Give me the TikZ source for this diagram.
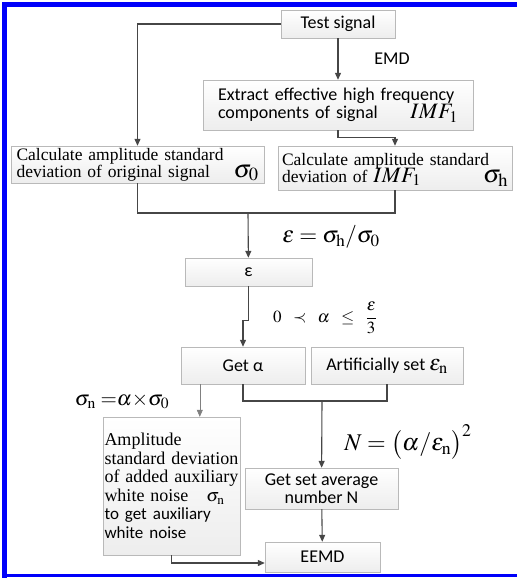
\documentclass[tikz,border=0pt]{standalone}
\usepackage{mathptmx}
\usepackage[no-math]{fontspec}
\setmainfont{Liberation Serif}
\newfontfamily\calibri{Carlito}
\usetikzlibrary{arrows.meta, shadows}

\definecolor{frameblue}{RGB}{0,0,250}
\definecolor{linegray}{RGB}{70,70,70}
\newcommand\bigsym[2]{\smash{\fontsize{#1}{#1}\selectfont #2}}

\begin{document}
\begin{tikzpicture}[x=1pt, y=-1pt,
    block/.style={rectangle, draw=gray!55, top color=white, bottom color=gray!14, inner sep=0pt,
        drop shadow={shadow xshift=1.2pt, shadow yshift=-1.2pt, opacity=0.25, fill=gray}},
    sans/.style={font=\calibri\fontsize{18}{18}\selectfont},
    serif/.style={font=\fontsize{17.5}{17}\selectfont},
    formula/.style={inner sep=0pt, font=\fontsize{#1}{#1}\selectfont},
    arrow/.style={-{Triangle[length=7pt, width=6pt]}, linegray, line width=1.1pt},
    link/.style={linegray, line width=1.1pt}]

\useasboundingbox (0,0) rectangle (517,578);

% Frame
\fill[frameblue] (2,2) rectangle (7,578);
\fill[frameblue] (2,2) rectangle (517,7);
\fill[frameblue] (2,574) rectangle (517,577);

% Nodes
\node [block, sans, minimum width=114, minimum height=28] (test) at (338,24) {Test signal};
\node [block, sans, minimum width=270, minimum height=50, text width=240pt, align=left] (extract) at (338,105)
    {Extract effective high frequency\\components of signal\hfill\bigsym{22}{$IMF_1$}};
\node [block, serif, minimum width=253, minimum height=37, text width=242pt, align=left] (calc0) at (137.5,164.5)
    {Calculate amplitude standard\\deviation of original signal\hfill\bigsym{25}{$\sigma_0$}};
\node [block, serif, minimum width=234, minimum height=44, text width=226pt, align=left] (calch) at (395,168)
    {Calculate amplitude standard\\deviation of \bigsym{22}{$IMF_1$}\hfill\bigsym{25}{$\sigma_{\mathrm{h}}$}};
\node [block, sans, minimum width=127, minimum height=28] (eps) at (248.5,272) {ε};
\node [block, sans, minimum width=124, minimum height=37] (getalpha) at (243,365.5) {Get α};
\node [block, sans, minimum width=152, minimum height=37] (seteps) at (387,365.5)
    {Artificially set \bigsym{22}{$\varepsilon_{\mathrm{n}}$}};
\node [block, minimum width=137, minimum height=138, text width=134pt, align=left,
    font=\fontsize{18}{18.5}\selectfont] (amp) at (171.5,486)
    {Amplitude\\standard deviation\\of added auxiliary\\white noise\quad $\sigma_{\mathrm{n}}$\\
     {\calibri\fontsize{17}{18.5}\selectfont to get auxiliary}\\{\calibri\fontsize{17}{18.5}\selectfont white noise}};
\node [block, sans, minimum width=153, minimum height=41, align=center] (getN) at (321.5,488.5)
    {Get set average\\number N};
\node [block, sans, minimum width=115, minimum height=30] (eemd) at (322.5,557) {EEMD};

% Labels
\node [sans, inner sep=0pt] (emd) at (392,59) {EMD};
\node [formula=23] (ratio) at (331,237) {$\varepsilon=\sigma_{\mathrm{h}}/\sigma_0$};
\node [formula=17] (range) at (325,318) {$0\;\;\prec\;\;\alpha\;\;\leq\;\;\displaystyle\frac{\varepsilon}{3}$};
\node [formula=21] (noise) at (122,401) {$\sigma_{\mathrm{n}}\;{=}\alpha{\times}\sigma_0$};
\node [formula=24] (count) at (408,442) {$N=\bigl(\alpha/\varepsilon_{\mathrm{n}}\bigr)^2$};

\coordinate (merge1) at (248,213);
\coordinate (merge2) at (322,401);

% Arrows
\draw [arrow] (test.west) -| (calc0.north);
\draw [arrow] (test) -- (extract);
\draw [arrow] (extract.south) -- ++(0,7) -| (calch.north);
\draw [link] (calc0.south) |- (merge1);
\draw [link] (calch.south) |- (merge1);
\draw [arrow] (merge1) -- (eps);
\draw [arrow] (eps.south) -- ++(0,34) -| (getalpha.north);
\draw [arrow, line width=0.6pt, draw=gray] ([xshift=19pt]getalpha.south west) -- ([xshift=19pt]getalpha.south west |- amp.north);
\draw [link] (getalpha.south) |- (merge2);
\draw [link] (seteps.south) |- (merge2);
\draw [arrow] (merge2) -- (getN);
\draw [arrow] (getN) -- (eemd);
\draw [arrow] (amp.south) |- ([yshift=-6pt]eemd.west);

\end{tikzpicture}
\end{document}
